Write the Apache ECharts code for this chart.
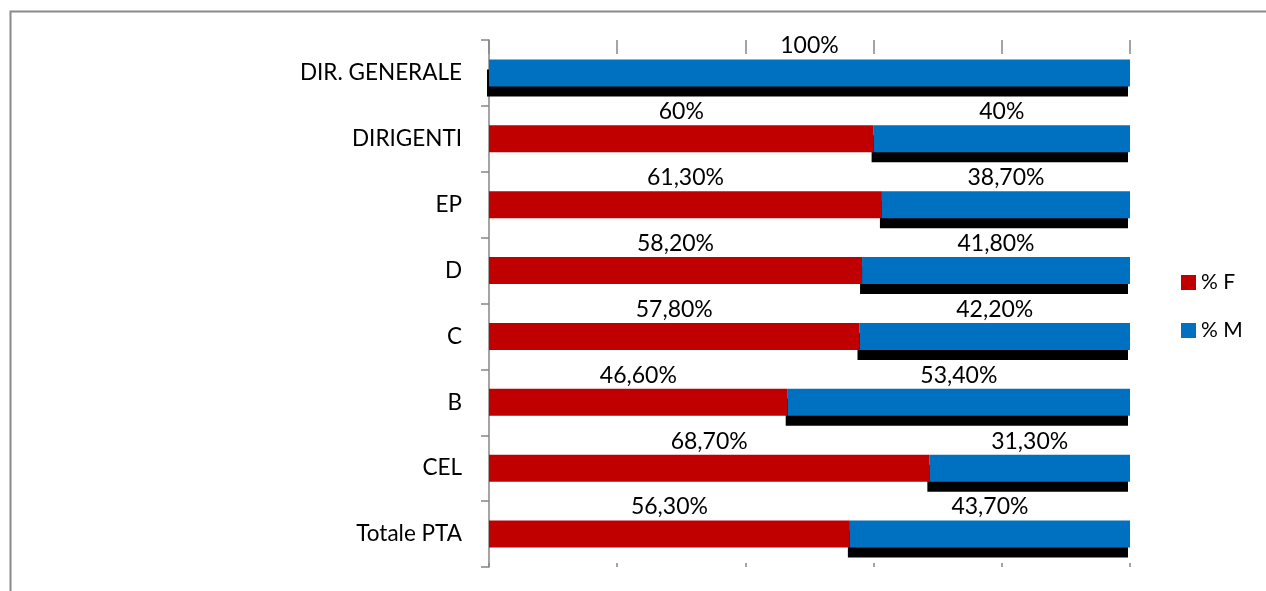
<!DOCTYPE html>
<html>
<head>
<meta charset="utf-8">
<script src="https://cdn.jsdelivr.net/npm/echarts@6/dist/echarts.min.js"></script>
<style>
  html, body { margin: 0; padding: 0; background: #fff; }
  #chart { width: 1266px; height: 591px; }
</style>
</head>
<body>
<div id="chart"></div>
<script>
// categorie (dall'alto verso il basso)
const categories = ['DIR. GENERALE', 'DIRIGENTI', 'EP', 'D', 'C', 'B', 'CEL', 'Totale PTA']
// percentuali donne / uomini
const pctF = [null, 60, 61.3, 58.2, 57.8, 46.6, 68.7, 56.3]
const pctM = [100, 40, 38.7, 41.8, 42.2, 53.4, 31.3, 43.7]
const xTicks = [0, 20, 40, 60, 80, 100]

const FONT = 'Lato'
const AXIS_GREY = '#868686'

// 60 -> "60%", 61.3 -> "61,30%"
function fmtPct(p){
    const v = p.value
    if(v == null) return ''
    if(Number.isInteger(v)) return v + '%'
    return v.toFixed(2).replace('.', ',') + '%'
}

const chart = echarts.init(document.getElementById('chart'))

const xBase = {
    type: 'value',
    min: xTicks[0],
    max: xTicks[xTicks.length - 1],
    interval: xTicks[1] - xTicks[0],
    axisLine: { show: false },
    axisLabel: { show: false },
    splitLine: { show: false }
}

chart.setOption({
    animation: false,
    textStyle: { fontFamily: FONT },
    grid: { left: 489, right: 136, top: 40, bottom: 24, containLabel: false },
    legend: {
        orient: 'vertical',
        left: 1181,
        top: 272,
        padding: 0,
        itemWidth: 15,
        itemHeight: 15,
        itemGap: 27,
        icon: 'rect',
        textStyle: { fontFamily: FONT, fontSize: 21, color: '#000', padding: [0, 0, 0, 0] },
        data: ['% F', '% M']
    },
    xAxis: [
        Object.assign({}, xBase, {
            position: 'top',
            axisTick: { show: true, inside: true, length: 14, lineStyle: { color: AXIS_GREY, width: 1.5 } }
        }),
        Object.assign({}, xBase, {
            position: 'bottom',
            axisTick: { show: true, inside: true, length: 4, lineStyle: { color: AXIS_GREY, width: 1.5 } }
        })
    ],
    yAxis: {
        type: 'category',
        inverse: true,
        data: categories,
        axisLine: { show: true, lineStyle: { color: AXIS_GREY, width: 1.5 } },
        axisTick: { show: true, length: 8, lineStyle: { color: AXIS_GREY, width: 1.5 } },
        axisLabel: { color: '#000', fontSize: 22.5, fontFamily: FONT, margin: 27 },
        splitLine: { show: false }
    },
    series: [
        {
            name: '% F',
            type: 'bar',
            stack: 'tot',
            z: 3,
            barWidth: 27,
            data: pctF,
            itemStyle: { color: '#C00000' },
            label: {
                show: true,
                position: 'top',
                distance: 2,
                color: '#000',
                fontSize: 23,
                fontFamily: FONT,
                formatter: fmtPct
            }
        },
        {
            name: '% M',
            type: 'bar',
            stack: 'tot',
            z: 2,
            barWidth: 27,
            data: pctM,
            itemStyle: {
                color: '#0070C0',
                shadowColor: '#000',
                shadowBlur: 0,
                shadowOffsetX: -2,
                shadowOffsetY: 10
            },
            label: {
                show: true,
                position: 'top',
                distance: 2,
                color: '#000',
                fontSize: 23,
                fontFamily: FONT,
                formatter: fmtPct
            }
        }
    ],
    graphic: [
        {
            type: 'rect',
            left: 8,
            top: 9,
            shape: { width: 1300, height: 620 },
            style: { fill: 'none', stroke: '#8a8a8a', lineWidth: 2 },
            silent: true
        }
    ]
})
</script>
</body>
</html>
